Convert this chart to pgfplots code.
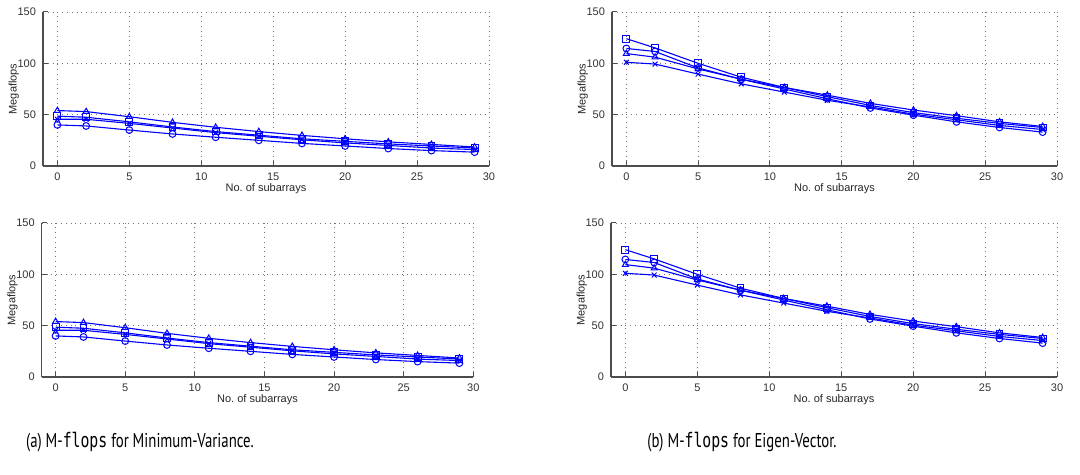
\documentclass[border=0pt]{standalone}
\usepackage{pgfplots}
\pgfplotsset{compat=1.18}
\usepackage{fontspec}
\setmainfont{Liberation Sans}
\newfontfamily\capfont[FakeStretch=0.74]{PT Sans}
\newfontfamily\capmono[FakeStretch=0.74]{DejaVu Sans Mono}

% MV = minimum-variance, EV = eigen-vector; x = number of subarrays
\pgfplotsset{
  mflops/.style={
    scale only axis, height=77pt,
    xmin=-1, xmax=30, ymin=0, ymax=150,
    xtick={0,5,...,30}, ytick={0,50,100,150},
    axis x line*=bottom, axis y line*=left,
    axis line style={black!70, line width=0.6pt, -},
    tick style={black!70, line width=0.5pt},
    tick align=inside, major tick length=2.5pt,
    grid=major, major grid style={dotted, black!55, line width=0.45pt},
    tick label style={font=\fontsize{5.5}{6}\selectfont, black!80},
    label style={font=\fontsize{5.5}{6}\selectfont, black!85},
    /pgf/number format/assume math mode=true,
    xlabel={No.\ of subarrays}, ylabel={Megaflops},
    xlabel style={yshift=5.5pt},
    ylabel style={yshift=-7.5pt},
    every axis plot/.append style={blue, line width=0.55pt, mark size=1.7pt,
      mark options={solid, fill=none, line width=0.5pt}},
  }
}

\pgfplotstableread{
x tri sq xm circ
0  54   48.5 45.5 40
2  53   47.5 45.5 39
5  48   43   41.5 35
8  42.5 38   37   31.2
11 37.7 33.5 32.5 28
14 33.5 30   29   25
17 29.8 26.5 25.5 22
20 26.5 24   22.5 19.5
23 23.5 21.5 20   17
26 21   19.5 17.5 15
29 18.5 17.5 16   13.5
}\mvdata

\pgfplotstableread{
x tri sq xm circ
0  109.5 124   101   114.5
2  106   115   99.3  111.5
5  94.5  100   89.5  95.5
8  84.5  86.5  80    84.5
11 76.5  76.5  72    75
14 69    67.5  64    65.5
17 61    59    57.5  56.5
20 54.5  52    50.5  49.5
23 49    46.5  45    43
26 43    41.5  39.5  37.5
29 38.5  37.5  35.5  33
}\evdata

\newcommand{\fourseries}[1]{%
  \addplot[mark=triangle] table[x=x,y=tri] {#1};
  \addplot[mark=square] table[x=x,y=sq] {#1};
  \addplot[mark=x] table[x=x,y=xm] {#1};
  \addplot[mark=o] table[x=x,y=circ] {#1};
}

\begin{document}
\begin{tikzpicture}
\useasboundingbox (0,0) rectangle (540pt,237.5pt);

\begin{axis}[mflops, at={(21.5pt,154.5pt)}, anchor=south west, width=223pt]
\fourseries{\mvdata}
\end{axis}

\begin{axis}[mflops, at={(20.85pt,49pt)}, anchor=south west, width=215.8pt]
\fourseries{\mvdata}
\end{axis}

\begin{axis}[mflops, at={(306pt,154.5pt)}, anchor=south west, width=222.5pt]
\fourseries{\evdata}
\end{axis}

\begin{axis}[mflops, at={(305.5pt,49pt)}, anchor=south west, width=223pt]
\fourseries{\evdata}
\end{axis}

\node[font=\capfont\fontsize{10}{12}\selectfont] at (70pt,16.5pt)
  {(a) M-{\capmono flops} for Minimum-Variance.};
\node[font=\capfont\fontsize{10}{12}\selectfont] at (371pt,16.5pt)
  {(b) M-{\capmono flops} for Eigen-Vector.};
\end{tikzpicture}
\end{document}
